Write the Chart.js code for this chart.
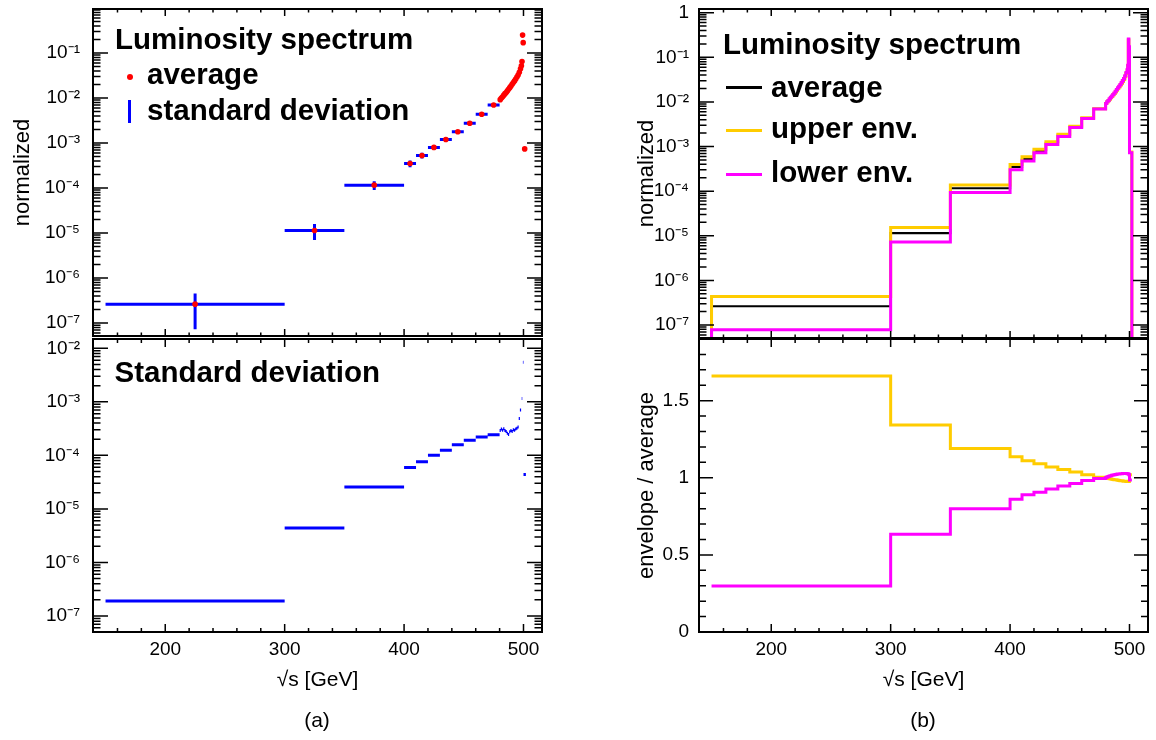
<!DOCTYPE html>
<html>
<head>
<meta charset="utf-8">
<script src="https://cdn.jsdelivr.net/npm/chart.js@4.4.1/dist/chart.umd.min.js"></script>
<style>
  body { margin: 0; background: #fff; }
  #page { position: relative; width: 1156px; height: 740px; overflow: hidden; background: #fff;
          font-family: "Liberation Sans", Arial, sans-serif; color: #000; }
  .pad { position: absolute; }
  .txt { position: absolute; white-space: nowrap; line-height: 1; }
  .mark { position: absolute; }
</style>
</head>
<body>
<div id="page">
  <div class="pad" style="left:0;top:0;width:560px;height:340px"><canvas id="spectrumLeft"></canvas></div>
  <div class="pad" style="left:0;top:336px;width:560px;height:404px"><canvas id="stdLeft"></canvas></div>
  <div class="pad" style="left:580px;top:0;width:576px;height:340px"><canvas id="spectrumRight"></canvas></div>
  <div class="pad" style="left:580px;top:336px;width:576px;height:404px"><canvas id="ratioRight"></canvas></div>
</div>
<script>
// bin edges in sqrt(s) [GeV]
const binEdges = [150, 300, 350, 400, 410, 420, 430, 440, 450, 460, 470, 480,
  481, 482, 483, 484, 485, 486, 487, 488, 489, 490, 491, 492, 493, 494, 495, 496, 497, 498,
  498.5, 499, 499.5, 500, 502];

// normalized luminosity spectrum, average over the samples
const average = [2.63e-7, 1.14e-5, 1.16e-4, 3.5e-4, 5.3e-4, 8.0e-4, 1.2e-3, 1.78e-3, 2.76e-3, 4.35e-3, 7.0e-3,
  0.0092, 0.0100, 0.0107, 0.0116, 0.0125, 0.0133, 0.0144, 0.0156, 0.0170, 0.0185, 0.0202, 0.0220,
  0.0240, 0.0265, 0.0292, 0.0325, 0.0375, 0.0445,
  0.052, 0.065, 0.25, 0.17,
  7.4e-4];

// standard deviation per bin
const stdDev = [1.9e-7, 4.4e-6, 2.56e-5, 5.9e-5, 7.6e-5, 1.0e-4, 1.24e-4, 1.58e-4, 1.91e-4, 2.2e-4, 2.43e-4,
  2.9e-4, 3.1e-4, 2.95e-4, 3.15e-4, 2.9e-4, 2.8e-4, 2.6e-4, 2.45e-4, 2.75e-4, 2.9e-4, 2.8e-4, 3.0e-4,
  2.95e-4, 3.1e-4, 3.2e-4, 3.4e-4, 4.9e-4, 7.0e-4,
  9.0e-4, 1.15e-3, 7.6e-3, 5.5e-3,
  4.4e-5];

// envelope / average
const upperRatio = [1.66, 1.342, 1.19, 1.136, 1.11, 1.091, 1.07, 1.054, 1.037, 1.02, 1.004,
  1.001, 0.998, 0.996, 0.994, 0.992, 0.991, 0.989, 0.988, 0.987, 0.985, 0.984, 0.982,
  0.981, 0.980, 0.979, 0.978, 0.977, 0.976,
  0.976, 0.976, 0.976, 0.977,
  1.02];
const lowerRatio = [0.299, 0.634, 0.80, 0.861, 0.89, 0.907, 0.928, 0.946, 0.963, 0.983, 0.996,
  1.002, 1.005, 1.008, 1.011, 1.014, 1.016, 1.018, 1.020, 1.022, 1.023, 1.024, 1.025,
  1.026, 1.027, 1.028, 1.028, 1.028, 1.028,
  1.027, 1.026, 1.025, 1.02,
  0.985];

const xTickValues = [200, 300, 400, 500];
const xTickLabels = ['200', '300', '400', '500'];
const spectrumTicks = [1e-7, 1e-6, 1e-5, 1e-4, 1e-3, 1e-2, 1e-1];
const spectrumTickLabels = ['10⁻⁷', '10⁻⁶', '10⁻⁵', '10⁻⁴', '10⁻³', '10⁻²', '10⁻¹'];
const envTicks = [1e-7, 1e-6, 1e-5, 1e-4, 1e-3, 1e-2, 1e-1, 1];
const envTickLabels = ['10⁻⁷', '10⁻⁶', '10⁻⁵', '10⁻⁴', '10⁻³', '10⁻²', '10⁻¹', '1'];
const stdTicks = [1e-7, 1e-6, 1e-5, 1e-4, 1e-3, 1e-2];
const stdTickLabels = ['10⁻⁷', '10⁻⁶', '10⁻⁵', '10⁻⁴', '10⁻³', '10⁻²'];
const ratioTicks = [0, 0.5, 1, 1.5];
const ratioTickLabels = ['0', '0.5', '1', '1.5'];

const FONT = '"Liberation Sans", Arial, sans-serif';
const RED = '#ff0000', BLUE = '#0000ff', GOLD = '#ffcc00', MAGENTA = '#ff00ff';

const lo = i => binEdges[i];
const hi = i => binEdges[i + 1];
const mid = i => (lo(i) + hi(i)) / 2;
const upperEnv = average.map((v, i) => v * upperRatio[i]);
const lowerEnv = average.map((v, i) => v * lowerRatio[i]);

// horizontal bar over each bin, broken between bins
function binBars(vals) {
  const pts = [];
  vals.forEach((v, i) => pts.push({x: lo(i), y: v}, {x: hi(i), y: v}, {x: hi(i), y: null}));
  return pts;
}
function errorBars() {
  const pts = [];
  average.forEach((v, i) => pts.push({x: mid(i), y: v - stdDev[i]}, {x: mid(i), y: v + stdDev[i]}, {x: mid(i), y: null}));
  return pts;
}
// histogram outline; floor closes it to the bottom of the frame
function histLine(vals, floor) {
  const pts = [];
  if (floor !== undefined) pts.push({x: lo(0), y: floor});
  vals.forEach((v, i) => pts.push({x: lo(i), y: v}));
  pts.push({x: binEdges[binEdges.length - 1], y: vals[vals.length - 1]});
  if (floor !== undefined) pts.push({x: binEdges[binEdges.length - 1], y: floor});
  return pts;
}

// ROOT style frame with inner ticks on all four sides
const rootFrame = {
  id: 'rootFrame',
  afterDraw(chart, args, o) {
    const {ctx, chartArea: a} = chart;
    const x = chart.scales.x, y = chart.scales.y;
    ctx.save();
    ctx.strokeStyle = '#000';
    ctx.lineWidth = 1.5;
    ctx.beginPath();
    for (let v = Math.ceil(x.min / 20) * 20; v <= x.max; v += 20) {
      const px = x.getPixelForValue(v);
      if (px <= a.left + 1 || px >= a.right - 1) continue;
      const len = v % 100 === 0 ? o.xLen : o.xLen / 2;
      ctx.moveTo(px, a.bottom); ctx.lineTo(px, a.bottom - len);
      ctx.moveTo(px, a.top); ctx.lineTo(px, a.top + len);
    }
    const yTick = (v, len) => {
      const py = y.getPixelForValue(v);
      if (py < a.top + 1 || py > a.bottom - 1) return;
      ctx.moveTo(a.left, py); ctx.lineTo(a.left + len, py);
      ctx.moveTo(a.right, py); ctx.lineTo(a.right - len, py);
    };
    if (y.type === 'logarithmic') {
      for (let e = Math.floor(Math.log10(y.min)); e <= Math.ceil(Math.log10(y.max)); e++) {
        for (let m = 1; m <= 9; m++) yTick(m * Math.pow(10, e), m === 1 ? o.yLen : o.yLen / 2);
      }
    } else {
      for (let k = 0; k * 0.1 <= y.max + 1e-9; k++) yTick(k * 0.1, k % 5 === 0 ? o.yLen : o.yLen / 2);
    }
    ctx.stroke();
    ctx.lineWidth = 2;
    ctx.strokeRect(a.left, a.top, a.right - a.left, a.bottom - a.top);
    ctx.restore();
  }
};

function makeChart(id, c) {
  return new Chart(document.getElementById(id), {
    type: 'line',
    data: {datasets: c.datasets},
    plugins: [rootFrame],
    options: {
      animation: false,
      responsive: true,
      maintainAspectRatio: false,
      events: [],
      layout: {padding: c.padding},
      elements: {line: {tension: 0}},
      plugins: {
        legend: {display: false},
        tooltip: {enabled: false},
        rootFrame: c.frame
      },
      scales: {
        x: {
          type: 'linear', min: 139.5, max: 515.5,
          display: c.showX,
          afterBuildTicks: s => { s.ticks = xTickValues.map(v => ({value: v})); },
          afterFit: s => { s.height = c.showX ? 108 : 0; s.paddingLeft = 0; s.paddingRight = 0; },
          grid: {display: false, drawTicks: false},
          border: {display: false},
          ticks: {autoSkip: false, maxRotation: 0, padding: 6, color: '#000',
                  font: {family: FONT, size: 19}, callback: (v, i) => xTickLabels[i]},
          title: {display: true, text: '√s [GeV]', color: '#000',
                  font: {family: FONT, size: 21}, padding: {top: 0, bottom: 47}}
        },
        y: {
          type: c.yType, min: c.yMin, max: c.yMax,
          afterBuildTicks: s => { s.ticks = c.yTicks.map(v => ({value: v})); },
          afterFit: s => { s.width = c.yWidth; s.paddingTop = 0; s.paddingBottom = 0; },
          grid: {display: false, drawTicks: false},
          border: {display: false},
          ticks: {autoSkip: false, padding: c.yPad, color: '#000',
                  font: {family: FONT, size: 19}, callback: (v, i) => c.yLabels[i]},
          title: {display: c.yTitle !== '', text: c.yTitle, color: '#000',
                  font: {family: FONT, size: 22}, padding: {top: c.titlePad, bottom: 0}}
        }
      }
    }
  });
}

const line = (data, color, width, order, extra) => Object.assign({
  data, borderColor: color, borderWidth: width, pointRadius: 0, fill: false, order, clip: 0
}, extra || {});

makeChart('spectrumLeft', {
  padding: {top: 9, right: 18, bottom: 2, left: 0},
  showX: false,
  yType: 'logarithmic', yMin: 5.16e-8, yMax: 0.951,
  yTicks: spectrumTicks, yLabels: spectrumTickLabels, yWidth: 93, yPad: 13,
  yTitle: 'normalized', titlePad: 10,
  frame: {xLen: 7, yLen: 15},
  datasets: [
    {data: average.map((v, i) => ({x: mid(i), y: v})), showLine: false, pointRadius: 2.8,
     pointBackgroundColor: RED, pointBorderWidth: 0, order: 0},
    line(binBars(average), BLUE, 3, 1),
    line(errorBars(), BLUE, 3, 1)
  ]
});

makeChart('stdLeft', {
  padding: {top: 3, right: 18, bottom: 0, left: 0},
  showX: true,
  yType: 'logarithmic', yMin: 5.02e-8, yMax: 0.0149,
  yTicks: stdTicks, yLabels: stdTickLabels, yWidth: 93, yPad: 13,
  yTitle: '', titlePad: 10,
  frame: {xLen: 8, yLen: 15},
  datasets: [line(binBars(stdDev), BLUE, 3, 0)]
});

makeChart('spectrumRight', {
  padding: {top: 9, right: 8, bottom: 2, left: 0},
  showX: false,
  yType: 'logarithmic', yMin: 5.11e-8, yMax: 1.21,
  yTicks: envTicks, yLabels: envTickLabels, yWidth: 119, yPad: 10,
  yTitle: 'normalized', titlePad: 54,
  frame: {xLen: 7, yLen: 15},
  datasets: [
    line(histLine(lowerEnv, 1e-10), MAGENTA, 3, 0, {stepped: true}),
    line(histLine(upperEnv, 1e-10), GOLD, 3, 1, {stepped: true}),
    line(histLine(average, 1e-10), '#000', 2.2, 2, {stepped: true})
  ]
});

makeChart('ratioRight', {
  padding: {top: 3, right: 8, bottom: 0, left: 0},
  showX: true,
  yType: 'linear', yMin: 0, yMax: 1.9,
  yTicks: ratioTicks, yLabels: ratioTickLabels, yWidth: 119, yPad: 10,
  yTitle: 'envelope / average', titlePad: 54,
  frame: {xLen: 8, yLen: 14},
  datasets: [
    line(histLine(lowerRatio), MAGENTA, 3, 0, {stepped: true}),
    line(histLine(upperRatio), GOLD, 3, 1, {stepped: true})
  ]
});

// legends and captions
const page = document.getElementById('page');
function text(str, x, baseline, size, bold, center) {
  const d = document.createElement('div');
  d.className = 'txt';
  d.textContent = str;
  d.style.fontSize = size + 'px';
  d.style.fontWeight = bold ? 'bold' : 'normal';
  d.style.left = x + 'px';
  d.style.top = (baseline - 0.8465 * size) + 'px';
  if (center) d.style.transform = 'translateX(-50%)';
  page.appendChild(d);
}
function mark(x, y, w, h, color, round) {
  const d = document.createElement('div');
  d.className = 'mark';
  Object.assign(d.style, {left: x + 'px', top: y + 'px', width: w + 'px', height: h + 'px', background: color});
  if (round) d.style.borderRadius = '50%';
  page.appendChild(d);
}

text('Luminosity spectrum', 115, 48.5, 29.5, true);
mark(126.5, 74, 6, 6, RED, true);
text('average', 147, 83.5, 29.5, true);
mark(128, 100, 3, 23, BLUE);
text('standard deviation', 147, 120, 29.5, true);
text('Standard deviation', 114.5, 381.5, 29.5, true);

text('Luminosity spectrum', 723, 53.5, 29.5, true);
mark(726, 86, 36, 2.5, '#000');
text('average', 771, 96.7, 29.5, true);
mark(726, 129.2, 36, 3, GOLD);
text('upper env.', 771, 138.3, 29.5, true);
mark(726, 172.5, 36, 3, MAGENTA);
text('lower env.', 771, 181.7, 29.5, true);

text('(a)', 317, 727, 21, false, true);
text('(b)', 923, 727, 21, false, true);
</script>
</body>
</html>
